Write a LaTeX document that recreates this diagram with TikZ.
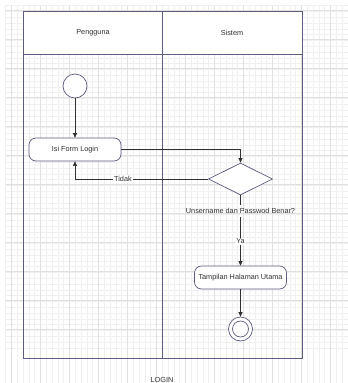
\documentclass[tikz,border=0pt]{standalone}
\usepackage{fontspec}
\setmainfont{Liberation Sans}
\usetikzlibrary{arrows.meta,shapes.geometric}
\definecolor{frame}{HTML}{5C5C7E}
\definecolor{gridminor}{HTML}{F0F0F0}
\definecolor{gridmajor}{HTML}{E0E0E0}
\definecolor{ink}{HTML}{303030}
\begin{document}
\begin{tikzpicture}[x=1pt,y=-1pt,
  font=\fontsize{7.3}{8.5}\selectfont, text=ink,
  act/.style={draw=frame, rounded corners=7pt, fill=white, line width=0.7pt,
    minimum width=92pt, minimum height=23pt, inner sep=0pt},
  state/.style={circle, draw=frame, fill=white, line width=0.7pt, inner sep=0pt},
  flow/.style={draw=ink, line width=0.6pt, -{Triangle[length=4.5pt,width=4pt]}},
  plain/.style={draw=ink, line width=0.6pt},
  lbl/.style={fill=white, inner sep=1pt}]
\useasboundingbox (0,0) rectangle (348,383);
\fill[white] (0,0) rectangle (348,383);
% background grid
\foreach \i in {0,...,59} {
  \draw[gridminor, line width=0.5pt] (5.7+\i*5.8,5.7) -- (5.7+\i*5.8,383);
  \draw[gridminor, line width=0.5pt] (5.7,5.7+\i*5.8) -- (348,5.7+\i*5.8);
}
\foreach \i in {0,...,11} {
  \draw[gridmajor, line width=0.5pt] (11.5+\i*29,5.7) -- (11.5+\i*29,383);
  \draw[gridmajor, line width=0.5pt] (5.7,10.7+\i*29) -- (348,10.7+\i*29);
}
% swimlanes
\fill[white] (23,11) rectangle (302,54);
\draw[frame, line width=1pt] (23,11) rectangle (302,358);
\draw[frame, line width=1pt] (23,54) -- (302,54);
\draw[frame, line width=1pt] (162,11) -- (162,358);
\node (lane1) at (93,33) {Pengguna};
\node (lane2) at (232,33) {Sistem};
% activity nodes
\node[state, minimum size=24pt] (start) at (75,86) {};
\node[act] (form) at (75,149.5) {Isi Form Login};
\node[diamond, draw=frame, fill=white, line width=0.7pt, inner sep=0pt,
  minimum width=64pt, minimum height=32pt] (dec) at (240.5,179) {};
\node (q) at (240.5,211) {Unsername dan Passwod Benar?};
\node[act] (main) at (240.5,277.5) {Tampilan Halaman Utama};
\node[state, minimum size=24pt] (end) at (240.5,329) {};
\node[state, minimum size=16pt] (endin) at (end.center) {};
% connectors
\draw[flow] (start) -- (form);
\draw[flow] (form.east) -| (dec.north);
\draw[flow] (dec.west) -| node[lbl, pos=0.32] {Tidak} (form.south);
\draw[plain] (dec.south) -- (q);
\draw[flow] (q) -- node[lbl] {Ya} (main);
\draw[flow] (main) -- (end);
\node (title) at (162,379.5) {LOGIN};
\end{tikzpicture}
\end{document}
